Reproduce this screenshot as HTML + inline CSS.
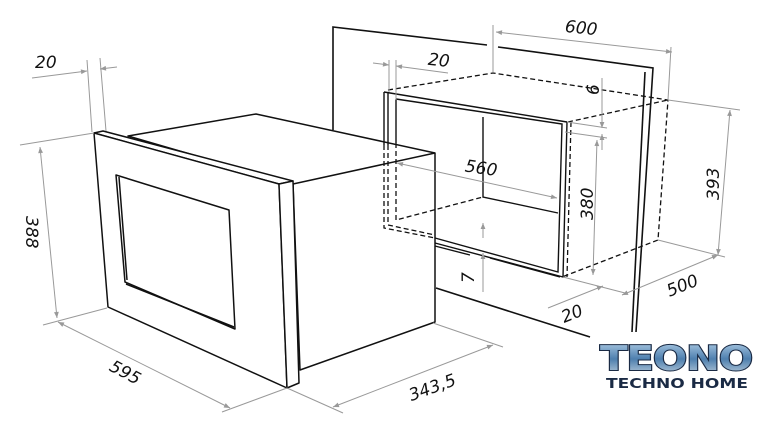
<!DOCTYPE html>
<html><head><meta charset="utf-8"><style>
html,body{margin:0;padding:0;background:#fff;width:762px;height:435px;overflow:hidden}
svg{display:block}
text{font-family:"DejaVu Sans","Liberation Sans",sans-serif;font-style:italic;font-size:17px;fill:#111}
</style></head><body>
<svg width="762" height="435" viewBox="0 0 762 435" xmlns="http://www.w3.org/2000/svg">
<defs>
<marker id="a" viewBox="0 0 10 10" refX="10" refY="5" markerWidth="8" markerHeight="6" orient="auto-start-reverse"><path d="M0,1 L10,5 L0,9 z" fill="#999"/></marker>
<linearGradient id="lg" x1="0" y1="0" x2="0" y2="1"><stop offset="0" stop-color="#b8d4ea"/><stop offset="0.5" stop-color="#4e7fae"/><stop offset="1" stop-color="#d0dce6"/></linearGradient>
</defs>
<!-- wall panel -->
<g fill="none" stroke="#111" stroke-width="1.6">
<path d="M333,130 L333,27 L487,45"/>
<path d="M498,47 L653,68 L636,332"/>
<path d="M645,72 L632,332"/>
<path d="M436,288 L590,337"/>
</g>
<!-- oven body -->
<g fill="#fff" stroke="#111" stroke-width="1.5" stroke-linejoin="round">
<path d="M128,136 L256,114 L435,153 L435,322 L300,370 L293,184 Z"/>
<path d="M94,133 L103,131 L293,181 L279,184 Z"/>
<path d="M94,133 L279,184 L287,388 L108,307 Z"/>
<path d="M279,184 L293,181 L299,383 L287,388 Z"/>
<path d="M116,175 L229,210 L235,329 L125,282 Z"/>
<path d="M119,177 L127,280" fill="none"/>
<path d="M126,284 L234,327" fill="none"/>
<path d="M293,184 L435,153" fill="none"/>
</g>
<!-- niche solid frame -->
<g fill="none" stroke="#111" stroke-width="1.4">
<path d="M384,92 L567,122"/>
<path d="M384,92 L384,145"/>
<path d="M388,92 L388,145"/>
<path d="M396,99 L562,124 L558,272 L435,238"/>
<path d="M396,99 L396,143"/>
<path d="M567,122 L563,277 L435,243"/>
<path d="M483,117 L483,197 L558,213"/>
<path d="M435,246 L470,255 M490,258 L560,277"/>
</g>
<!-- dashed cabinet -->
<g fill="none" stroke="#111" stroke-width="1.3" stroke-dasharray="5,3">
<path d="M388,90 L493,73 L668,100 L658,240 L562,277"/>
<path d="M568,122 L668,100"/>
<path d="M571,122 L567,277"/>
<path d="M384,145 L384,228 L435,238"/>
<path d="M388,145 L388,225 L435,235"/>
<path d="M396,143 L396,220 L483,197"/>
</g>
<!-- dimension lines -->
<g stroke="#999" stroke-width="1" fill="none">
<path d="M493,25 L493,72 M671,47 L668,100"/>
<path d="M496,32 L672,52" marker-start="url(#a)" marker-end="url(#a)"/>
<path d="M389,60 L389,92 M396,60 L396,100"/>
<path d="M373,63 L389,65" marker-end="url(#a)"/>
<path d="M448,73 L396,66" marker-end="url(#a)"/>
<path d="M567,122 L607,128 M565,132 L607,138"/>
<path d="M602,78 L602,128" marker-end="url(#a)"/>
<path d="M602,150 L602,134" marker-end="url(#a)"/>
<path d="M597,140 L593,275" marker-start="url(#a)" marker-end="url(#a)"/>
<path d="M668,100 L740,110 M658,240 L725,257"/>
<path d="M730,110 L718,255" marker-start="url(#a)" marker-end="url(#a)"/>
<path d="M718,255 L622,295" marker-start="url(#a)" marker-end="url(#a)"/>
<path d="M563,277 L625,293"/>
<path d="M548,308 L603,286" marker-end="url(#a)"/>
<path d="M483,223 L483,238" marker-start="url(#a)"/>
<path d="M483,292 L483,253" marker-end="url(#a)"/>
<path d="M397,163 L557,198" marker-start="url(#a)" marker-end="url(#a)"/>
<path d="M433,323 L503,347 M287,388 L343,413"/>
<path d="M333,407 L493,345" marker-start="url(#a)" marker-end="url(#a)"/>
<path d="M43,325 L107,308 M222,412 L287,388"/>
<path d="M58,322 L230,408" marker-start="url(#a)" marker-end="url(#a)"/>
<path d="M20,145 L94,133"/>
<path d="M40,147 L57,318" marker-start="url(#a)" marker-end="url(#a)"/>
<path d="M87,60 L92,132 M100,58 L106,131"/>
<path d="M32,78 L87,71" marker-end="url(#a)"/>
<path d="M117,67 L100,69" marker-end="url(#a)"/>
</g>
<!-- labels -->
<text x="565" y="34" transform="rotate(6 585 28)">600</text>
<text x="428" y="66" transform="rotate(6 440 60)">20</text>
<text x="585" y="93" transform="rotate(-90 593 87)">6</text>
<text x="465" y="174" transform="rotate(8 483 168)">560</text>
<text x="570" y="209" transform="rotate(-90 587 203)">380</text>
<text x="696" y="189" transform="rotate(-90 713 183)">393</text>
<text x="666" y="291" transform="rotate(-22 683 285)">500</text>
<text x="561" y="319" transform="rotate(-22 573 313)">20</text>
<text x="462" y="283" transform="rotate(-90 468 277)">7</text>
<text x="408" y="394" transform="rotate(-20 430 388)">343,5</text>
<text x="109" y="379" transform="rotate(28 127 373)">595</text>
<text x="15" y="239" transform="rotate(90 32 233)">388</text>
<text x="35" y="68">20</text>
<!-- logo -->
<text x="600" y="370" style="font-family:'DejaVu Sans',sans-serif;font-style:normal;font-weight:bold;font-size:34px;fill:url(#lg);stroke:#1a2a44;stroke-width:2;paint-order:stroke;letter-spacing:-1px" textLength="152" lengthAdjust="spacingAndGlyphs">TEONO</text>
<text x="606" y="388" style="font-family:'DejaVu Sans',sans-serif;font-style:normal;font-weight:bold;font-size:13px;fill:#1a2a44" textLength="142" lengthAdjust="spacingAndGlyphs">TECHNO HOME</text>
</svg>
</body></html>
